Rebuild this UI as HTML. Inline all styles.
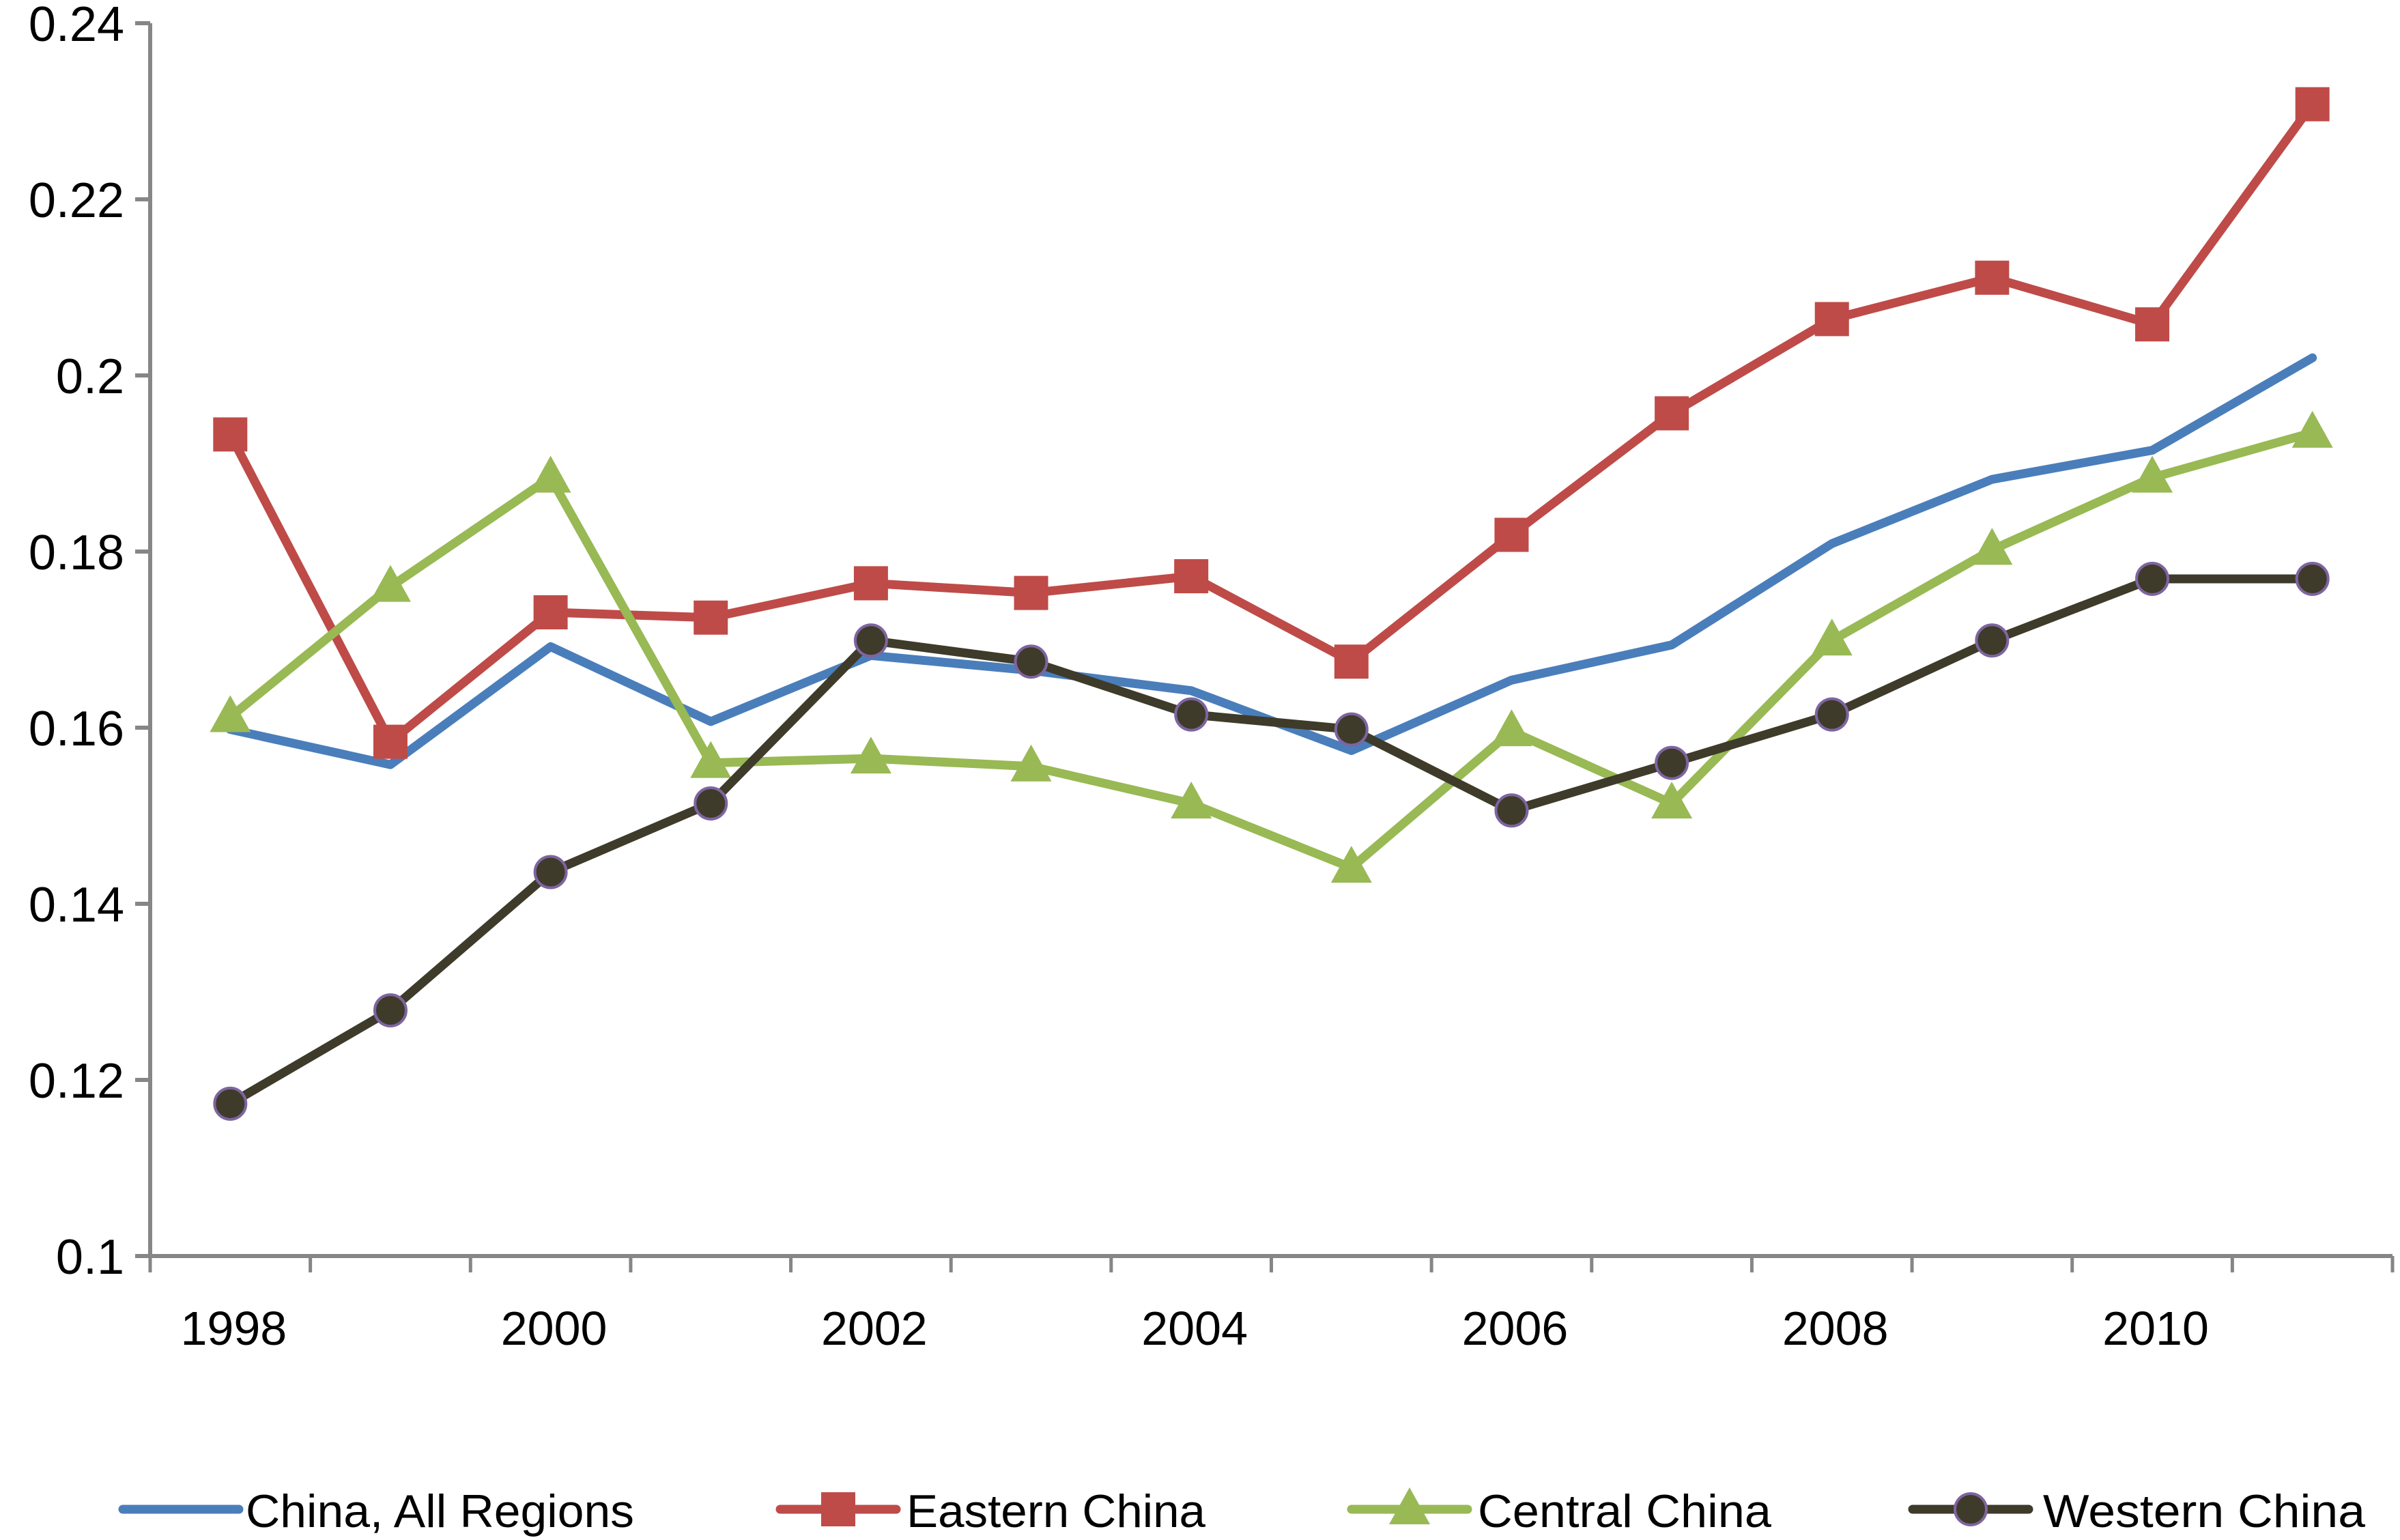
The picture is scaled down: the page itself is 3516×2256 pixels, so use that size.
<!DOCTYPE html>
<html><head><meta charset="utf-8"><style>
html,body{margin:0;padding:0;background:#fff;}
svg{display:block;font-family:"Liberation Sans",sans-serif;}
</style></head><body>
<svg id="chart" width="3516" height="2256" viewBox="0 0 3516 2256" xmlns="http://www.w3.org/2000/svg"></svg>
<script>
const years = [1998,1999,2000,2001,2002,2003,2004,2005,2006,2007,2008,2009,2010,2011];
const yTicks = [0.1,0.12,0.14,0.16,0.18,0.2,0.22,0.24];
const yTickLabels = ["0.1","0.12","0.14","0.16","0.18","0.2","0.22","0.24"];
const xTickLabels = ["1998","2000","2002","2004","2006","2008","2010"];
const chinaAll = [0.1598,0.1558,0.1692,0.1607,0.1682,0.1665,0.1642,0.1574,0.1654,0.1694,0.1809,0.1882,0.1915,0.2020];
const eastern = [0.1933,0.1584,0.1731,0.1725,0.1764,0.1753,0.1772,0.1675,0.1819,0.1957,0.2064,0.2111,0.2058,0.2308];
const central = [0.1612,0.1760,0.1884,0.1560,0.1565,0.1556,0.1514,0.1441,0.1596,0.1514,0.1699,0.1802,0.1884,0.1935];
const western = [0.1173,0.1279,0.1436,0.1514,0.1699,0.1675,0.1615,0.1598,0.1506,0.1560,0.1615,0.1699,0.1769,0.1769];
const seriesNames = ["China, All Regions","Eastern China","Central China","Western China"];

const NS="http://www.w3.org/2000/svg";
const svg=document.getElementById('chart');
const L=220,R=3505,T=34,B=1840,yMin=0.1,yMax=0.24;
const cw=(R-L)/years.length;
function xs(i){return L+cw*(i+0.5);}
function ys(v){return B-(v-yMin)/(yMax-yMin)*(B-T);}
function mk(tag,attrs,parent){const e=document.createElementNS(NS,tag);for(const k in attrs)e.setAttribute(k,attrs[k]);(parent||svg).appendChild(e);return e;}

const ax=mk('line',{x1:L,y1:T,x2:L,y2:B+2,stroke:'#868686','stroke-width':6});


const bx=mk('line',{x1:L-22,y1:B,x2:R,y2:B,stroke:'#868686','stroke-width':6});


yTicks.forEach((v,i)=>{
  const y=ys(v);
  const t=mk('line',{x1:L-22,y1:y,x2:L,y2:y,stroke:'#868686','stroke-width':6});
  
  
  const tx=mk('text',{x:182,y:y+26,'text-anchor':'end','font-size':72,fill:'#000'});
  tx.textContent=yTickLabels[i];
  
  
});
for(let i=0;i<=years.length;i++){
  const x=L+cw*i;
  const t=mk('line',{x1:x,y1:B,x2:x,y2:B+24,stroke:'#868686','stroke-width':5});
  
  
}
xTickLabels.forEach((lab)=>{
  const i=years.indexOf(+lab);
  const tx=mk('text',{x:xs(i)+5,y:1970,'text-anchor':'middle','font-size':70,fill:'#000'});
  tx.textContent=lab;
  
  
});

const colors=['#4a7ebb','#be4b48','#98b954','#3e3b2a'];
const data=[chinaAll,eastern,central,western];
function marker(type,x,y,g){
  let e;
  if(type===1) e=mk('rect',{x:x-25,y:y-25,width:50,height:50,fill:colors[1]},g);
  else if(type===2) e=mk('polygon',{points:`${x},${y-32} ${x+30},${y+22} ${x-30},${y+22}`,fill:colors[2]},g);
  else if(type===3) e=mk('circle',{cx:x,cy:y,r:23,fill:colors[3],stroke:'#7e64a0','stroke-width':4},g);
  return e;
}
data.forEach((arr,s)=>{
  const g=mk('g',{});
  
  
  const pts=arr.map((v,i)=>xs(i)+','+ys(v)).join(' ');
  const pl=mk('polyline',{points:pts,fill:'none',stroke:colors[s],'stroke-width':13,'stroke-linejoin':'round','stroke-linecap':'round'},g);
  
  
  if(s>0) arr.forEach((v,i)=>{
    const m=marker(s,xs(i),ys(v),g);
    
    
  });
});

const lx=[180,1143,1980,2802];
const tx0=[360,1328,2165,2993];
const tw=[569,438,430,472];
seriesNames.forEach((n,s)=>{
  const g=mk('g',{});
  
  
  const y=2211;
  mk('line',{x1:lx[s],y1:y,x2:lx[s]+170,y2:y,stroke:colors[s],'stroke-width':13,'stroke-linecap':'round'},g);
  if(s>0) marker(s,lx[s]+85,y,g);
  const t=mk('text',{x:tx0[s],y:y+26,'font-size':68,fill:'#000',textLength:tw[s],lengthAdjust:'spacingAndGlyphs'},g);
  t.textContent=n;
});
</script>
</body></html>
